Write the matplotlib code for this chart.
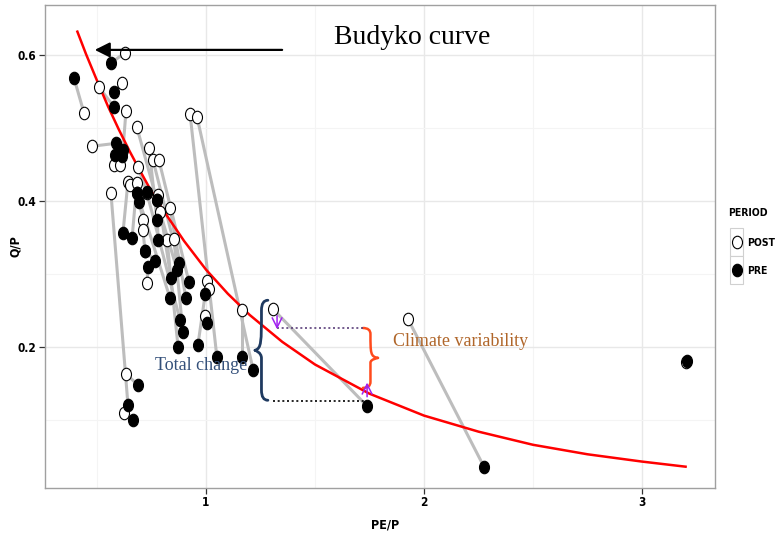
import matplotlib
matplotlib.use("Agg")
import matplotlib.pyplot as plt
from matplotlib.path import Path
from matplotlib.patches import PathPatch, Rectangle
from matplotlib.lines import Line2D
from matplotlib.transforms import Affine2D

# POST (open) and PRE (filled) values per catchment, PE/P and Q/P
post_pe = [0.628, 0.440, 0.509, 0.615, 0.633, 0.683, 0.739, 0.757, 0.784, 0.477,
           0.927, 0.959, 0.578, 0.606, 0.688, 0.642, 0.651, 0.683, 0.564, 0.780,
           0.835, 0.711, 0.711, 0.789, 0.821, 0.853, 0.729, 1.005, 1.014, 1.165,
           0.995, 1.307, 1.927, 3.202, 0.633, 0.624, 0.729, 0.683, 0.775, 0.720]
post_q = [0.603, 0.521, 0.556, 0.562, 0.523, 0.501, 0.473, 0.456, 0.456, 0.475,
          0.519, 0.515, 0.449, 0.449, 0.447, 0.426, 0.422, 0.425, 0.411, 0.408,
          0.390, 0.374, 0.360, 0.385, 0.347, 0.348, 0.288, 0.290, 0.280, 0.251,
          0.243, 0.252, 0.238, 0.180, 0.163, 0.110, 0.411, 0.411, 0.401, 0.332]
pre_pe = [0.564, 0.394, 0.578, 0.578, 0.619, 0.775, 0.775, 0.876, 0.922, 0.587,
          1.050, 1.216, 0.583, 0.615, 0.729, 0.619, 0.683, 0.661, 0.642, 0.839,
          0.908, 0.693, 0.720, 0.867, 0.872, 0.894, 0.734, 0.963, 0.995, 1.165,
          1.005, 1.739, 2.275, 3.206, 0.688, 0.665, 0.881, 0.835, 0.780, 0.766]
pre_q = [0.589, 0.569, 0.529, 0.549, 0.470, 0.401, 0.374, 0.315, 0.289, 0.479,
         0.186, 0.169, 0.463, 0.462, 0.412, 0.356, 0.411, 0.349, 0.121, 0.295,
         0.267, 0.399, 0.332, 0.306, 0.200, 0.221, 0.310, 0.203, 0.273, 0.186,
         0.233, 0.119, 0.036, 0.181, 0.148, 0.100, 0.237, 0.267, 0.347, 0.318]

# Budyko curve
budyko_x = [0.41, 0.45, 0.5, 0.55, 0.6, 0.65, 0.7, 0.75, 0.8, 0.9, 1.0, 1.1, 1.2,
            1.35, 1.5, 1.75, 2.0, 2.25, 2.5, 2.75, 3.0, 3.2]
budyko_y = [0.632, 0.601, 0.565, 0.530, 0.498, 0.468, 0.440, 0.413, 0.389, 0.345,
            0.306, 0.273, 0.244, 0.207, 0.176, 0.136, 0.106, 0.084, 0.066, 0.053,
            0.043, 0.036]

x_ticks = [1, 2, 3]
y_ticks = [0.2, 0.4, 0.6]

sans = dict(family='DejaVu Sans', stretch='condensed', fontweight='bold')
serif = ['Liberation Serif', 'DejaVu Serif']

fig = plt.figure(figsize=(7.77, 5.33), dpi=100)
ax = fig.add_axes([45 / 777, 1 - 488 / 533, 670 / 777, 483 / 533])
ax.set_xlim(0.2615, 3.335)
ax.set_ylim(0.0068, 0.6685)

# grid like ggplot
ax.set_xticks(x_ticks)
ax.set_yticks(y_ticks)
ax.set_xticks([0.5, 1.5, 2.5], minor=True)
ax.set_yticks([0.1, 0.3, 0.5], minor=True)
ax.grid(True, which='major', color='#e8e8e8', lw=1.0)
ax.grid(True, which='minor', color='#f4f4f4', lw=0.8)
ax.set_axisbelow(True)
for s in ax.spines.values():
    s.set_color('#a0a0a0')
    s.set_linewidth(1.0)
ax.tick_params(which='minor', length=0)
ax.tick_params(which='major', length=4, width=0.9, color='#333333', pad=2)
ax.set_xticklabels([str(t) for t in x_ticks], fontsize=8.5, **sans)
ax.set_yticklabels([str(t) for t in y_ticks], fontsize=8.5, **sans)
ax.set_xlabel('PE/P', fontsize=9, **sans)
ax.set_ylabel('Q/P', fontsize=9, **sans)
ax.xaxis.set_label_coords(340 / 670, -30 / 483)
ax.yaxis.set_label_coords(-23 / 670, 0.5)

# slightly tall points, as in the original
ell = Path.unit_circle().transformed(Affine2D().scale(0.8, 1.0))

for i in range(len(post_pe)):
    ax.plot([post_pe[i], pre_pe[i]], [post_q[i], pre_q[i]], color='#bdbdbd', lw=2.2,
            solid_capstyle='round', zorder=2)

ax.plot(budyko_x, budyko_y, color='red', lw=1.8, zorder=3)

ax.plot(post_pe, post_q, ls='none', marker=ell, ms=9, mfc='white', mec='black', mew=0.8, zorder=4)
ax.plot(pre_pe, pre_q, ls='none', marker=ell, ms=9, mfc='black', mec='black', mew=0.8, zorder=5)

# Budyko arrow + label
ax.annotate('', xy=(0.477, 0.607), xytext=(1.362, 0.607),
            arrowprops=dict(arrowstyle='-|>,head_length=0.9,head_width=0.45', color='black', lw=1.6),
            zorder=6)
ax.text(1.945, 0.624, 'Budyko curve', family=serif, fontsize=20, ha='center', va='center')


def brace(x0, x1, y0, y1, color, lw):
    # vertical curly brace, tip at x0 (middle), arms at x1
    ym = (y0 + y1) / 2
    xm = (x0 + x1) / 2
    h = (y1 - y0)
    verts = [(x1, y0), (xm, y0), (xm, y0 + 0.1 * h), (xm, ym - 0.08 * h),
             (xm, ym - 0.02 * h), (x0, ym), (x0, ym),
             (x0, ym), (xm, ym + 0.02 * h), (xm, ym + 0.08 * h),
             (xm, y1 - 0.1 * h), (xm, y1), (x1, y1)]
    codes = [Path.MOVETO, Path.CURVE3, Path.CURVE3, Path.LINETO,
             Path.CURVE4, Path.CURVE4, Path.CURVE4,
             Path.MOVETO, Path.CURVE4, Path.CURVE4,
             Path.LINETO, Path.CURVE3, Path.CURVE3]
    ax.add_patch(PathPatch(Path(verts, codes), fill=False, edgecolor=color, lw=lw, zorder=6,
                           capstyle='round'))


brace(1.225, 1.284, 0.127, 0.264, '#1f3a60', 2.0)
brace(1.789, 1.720, 0.144, 0.226, '#ff4a1c', 1.8)

ax.plot([1.326, 1.720], [0.226, 0.226], ls=(0, (1.2, 1.6)), color='#5b3f7a', lw=1.2, zorder=6)
ax.plot([1.307, 1.729], [0.126, 0.126], ls=(0, (1.2, 1.6)), color='black', lw=1.2, zorder=6)

ax.annotate('', xy=(1.326, 0.2205), xytext=(1.326, 0.2466),
            arrowprops=dict(arrowstyle='->,head_length=0.7,head_width=0.35', color='#a020f0', lw=1.1),
            zorder=7)
ax.annotate('', xy=(1.739, 0.155), xytext=(1.739, 0.128),
            arrowprops=dict(arrowstyle='->,head_length=0.7,head_width=0.35', color='#a020f0', lw=1.1),
            zorder=7)

ax.text(0.977, 0.174, 'Total change', family=serif, fontsize=13, color='#34507a',
        ha='center', va='center', zorder=8)
ax.text(1.858, 0.208, 'Climate variability', family=serif, fontsize=13, color='#b0662a',
        ha='left', va='center', zorder=8)

# legend drawn by hand (ggplot style keys)
fig.text(728 / 777, 1 - 213 / 533, 'PERIOD', fontsize=7.5, ha='left', va='center', **sans)
for k, (lab, face) in enumerate([('POST', 'white'), ('PRE', 'black')]):
    top = 228 + k * 28
    fig.patches.append(Rectangle((730 / 777, 1 - (top + 28) / 533), 13 / 777, 28 / 533,
                                 transform=fig.transFigure, facecolor='white',
                                 edgecolor='#d0d0d0', lw=0.8))
    fig.lines.append(Line2D([737 / 777], [1 - (top + 14) / 533], transform=fig.transFigure,
                            marker=ell, ms=9, mfc=face, mec='black', mew=0.8, ls='none'))
    fig.text(747 / 777, 1 - (top + 15) / 533, lab, fontsize=7.5, ha='left', va='center', **sans)

fig.savefig('out.png', dpi=100)
